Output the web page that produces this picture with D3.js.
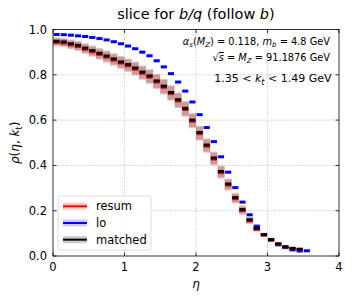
<!DOCTYPE html>
<html>
<head>
<meta charset="utf-8">
<script src="https://cdn.jsdelivr.net/npm/d3@7"></script>
<style>
    html, body { margin: 0; padding: 0; background: #fff; }
    svg text { font-family: "DejaVu Sans", sans-serif; fill: #000; }
</style>
</head>
<body>
<div id="chart"></div>
<script>
// bin edges in eta (0.1 wide)
const binEdges = [0.0, 0.1, 0.2, 0.3, 0.4, 0.5, 0.6, 0.7, 0.8, 0.9, 1.0, 1.1, 1.2, 1.3, 1.4, 1.5, 1.6, 1.7, 1.8, 1.9,
    2.0, 2.1, 2.2, 2.3, 2.4, 2.5, 2.6, 2.7, 2.8, 2.9, 3.0, 3.1, 3.2, 3.3, 3.4, 3.5, 3.6];

const matched = [0.948, 0.945, 0.937, 0.930, 0.918, 0.907, 0.895, 0.883, 0.870, 0.857, 0.845, 0.830, 0.812, 0.795,
    0.773, 0.750, 0.722, 0.690, 0.652, 0.600, 0.545, 0.490, 0.433, 0.373, 0.318, 0.258, 0.205, 0.160, 0.122, 0.095,
    0.073, 0.054, 0.041, 0.034, 0.030];
const resum = [0.943, 0.940, 0.932, 0.925, 0.913, 0.902, 0.890, 0.878, 0.865, 0.852, 0.840, 0.825, 0.807, 0.790,
    0.768, 0.745, 0.717, 0.685, 0.647, 0.595, 0.540, 0.485, 0.428, 0.368, 0.313, 0.253, 0.200, 0.155, 0.118, 0.092,
    0.071, 0.052, 0.040, 0.033, 0.029];
const lo = [0.978, 0.977, 0.975, 0.972, 0.969, 0.965, 0.960, 0.954, 0.946, 0.937, 0.927, 0.915, 0.900, 0.884,
    0.862, 0.835, 0.805, 0.768, 0.728, 0.680, 0.624, 0.567, 0.505, 0.438, 0.370, 0.302, 0.238, 0.182, 0.132, 0.095,
    0.070, 0.049, 0.037, 0.027, 0.022, 0.023];
// scale-variation half-widths of the band
const bandErr = [0.017, 0.018, 0.019, 0.020, 0.021, 0.022, 0.023, 0.024, 0.025, 0.026, 0.027, 0.028, 0.029, 0.030,
    0.031, 0.032, 0.032, 0.032, 0.032, 0.031, 0.030, 0.029, 0.028, 0.026, 0.024, 0.021, 0.018, 0.014, 0.011, 0.008,
    0.006, 0.005, 0.004, 0.003, 0.003];

const xTicks = [0, 1, 2, 3, 4];
const yTicks = [0.0, 0.2, 0.4, 0.6, 0.8, 1.0];
const legendItems = [
    { label: 'resum', color: 'red', band: 'rgba(255,0,0,0.2)' },
    { label: 'lo', color: 'blue', band: 'rgba(0,0,255,0.2)' },
    { label: 'matched', color: 'black', band: 'rgba(0,0,0,0.2)' }
];

const width = 352, height = 302;
const margin = { top: 29.5, right: 13, bottom: 46, left: 53 };

const svg = d3.select('#chart').append('svg')
    .attr('width', width)
    .attr('height', height);

const x = d3.scaleLinear().domain([0, 4]).range([margin.left, width - margin.right]);
const y = d3.scaleLinear().domain([0, 1]).range([height - margin.bottom, margin.top]);

// grid
const grid = svg.append('g')
    .attr('stroke', '#b0b0b0')
    .attr('stroke-width', 0.8)
    .attr('stroke-dasharray', '1,1.6');
grid.selectAll('.gx').data(xTicks.slice(1, -1)).join('line')
    .attr('x1', d => x(d)).attr('x2', d => x(d))
    .attr('y1', y(0)).attr('y2', y(1));
grid.selectAll('.gy').data(yTicks.slice(1, -1)).join('line')
    .attr('x1', x(0)).attr('x2', x(4))
    .attr('y1', d => y(d)).attr('y2', d => y(d));

// bands: resum (red) and matched (grey) on top of each other
const bins = matched.map((m, i) => ({ lo: binEdges[i], hi: binEdges[i + 1], m, r: resum[i], e: bandErr[i] }));
['rgba(255,0,0,0.25)', 'rgba(0,0,0,0.2)'].forEach((fill, k) => {
    svg.append('g').selectAll('rect').data(bins).join('rect')
        .attr('x', d => x(d.lo))
        .attr('width', d => x(d.hi) - x(d.lo))
        .attr('y', d => y((k ? d.m : d.r) + d.e))
        .attr('height', d => y(0) - y(2 * d.e))
        .attr('fill', fill);
});

function drawSteps(values, color, sw) {
    svg.append('g').selectAll('line').data(values).join('line')
        .attr('x1', (d, i) => x(binEdges[i]) + 0.5)
        .attr('x2', (d, i) => x(binEdges[i + 1]) - 0.5)
        .attr('y1', d => y(d))
        .attr('y2', d => y(d))
        .attr('stroke', color)
        .attr('stroke-width', sw);
}

drawSteps(lo, 'blue', 3);
drawSteps(resum, 'red', 3);
drawSteps(matched, 'black', 3);

// axes frame with inward ticks
const tickLen = 3.5;
const axisG = svg.append('g').attr('stroke', '#000').attr('stroke-width', 0.8);
axisG.append('rect')
    .attr('x', x(0)).attr('y', y(1))
    .attr('width', x(4) - x(0)).attr('height', y(0) - y(1))
    .attr('fill', 'none');
xTicks.forEach(t => {
    axisG.append('line').attr('x1', x(t)).attr('x2', x(t)).attr('y1', y(0)).attr('y2', y(0) - tickLen);
    axisG.append('line').attr('x1', x(t)).attr('x2', x(t)).attr('y1', y(1)).attr('y2', y(1) + tickLen);
});
yTicks.forEach(t => {
    axisG.append('line').attr('x1', x(0)).attr('x2', x(0) + tickLen).attr('y1', y(t)).attr('y2', y(t));
    axisG.append('line').attr('x1', x(4)).attr('x2', x(4) - tickLen).attr('y1', y(t)).attr('y2', y(t));
});

svg.append('g').selectAll('text').data(xTicks).join('text')
    .attr('x', d => x(d)).attr('y', y(0) + 15)
    .attr('text-anchor', 'middle')
    .style('font-size', '11.5px')
    .text(d => d);
svg.append('g').selectAll('text').data(yTicks).join('text')
    .attr('x', x(0) - 6).attr('y', d => y(d) + 4)
    .attr('text-anchor', 'end')
    .style('font-size', '11.5px')
    .text(d => d.toFixed(1));

// title
const title = svg.append('text')
    .attr('x', (x(0) + x(4)) / 2).attr('y', 19)
    .attr('text-anchor', 'middle')
    .style('font-size', '14.5px');
title.append('tspan').text('slice for ');
title.append('tspan').style('font-style', 'italic').text('b/q');
title.append('tspan').text(' (follow ');
title.append('tspan').style('font-style', 'italic').text('b');
title.append('tspan').text(')');

// axis labels
svg.append('text')
    .attr('x', (x(0) + x(4)) / 2).attr('y', 288)
    .attr('text-anchor', 'middle')
    .style('font-size', '12px').style('font-style', 'italic')
    .text('η');
const yl = svg.append('text')
    .attr('transform', `translate(19,${(y(0) + y(1)) / 2}) rotate(-90)`)
    .attr('text-anchor', 'middle')
    .style('font-size', '12px');
yl.append('tspan').style('font-style', 'italic').text('ρ');
yl.append('tspan').text('(');
yl.append('tspan').style('font-style', 'italic').text('η');
yl.append('tspan').text(', ');
yl.append('tspan').style('font-style', 'italic').text('k');
yl.append('tspan').attr('dy', 3).style('font-size', '8.5px').text('t');
yl.append('tspan').attr('dy', -3).text(')');

// annotations
const ax = x(4) - 9;
const a1 = svg.append('text').attr('x', ax).attr('y', 45).attr('text-anchor', 'end').style('font-size', '9.8px');
a1.append('tspan').style('font-style', 'italic').text('α');
a1.append('tspan').attr('dy', 2).style('font-size', '7px').style('font-style', 'italic').text('s');
a1.append('tspan').attr('dy', -2).text('(');
a1.append('tspan').style('font-style', 'italic').text('M');
a1.append('tspan').attr('dy', 2).style('font-size', '7px').style('font-style', 'italic').text('Z');
a1.append('tspan').attr('dy', -2).text(') = 0.118, ');
a1.append('tspan').style('font-style', 'italic').text('m');
a1.append('tspan').attr('dy', 2).style('font-size', '7px').style('font-style', 'italic').text('b');
a1.append('tspan').attr('dy', -2).text(' = 4.8 GeV');

const a2 = svg.append('text').attr('x', ax).attr('y', 61).attr('text-anchor', 'end').style('font-size', '9.8px');
a2.append('tspan').text('√');
a2.append('tspan').style('font-style', 'italic').style('text-decoration', 'overline').text('s');
a2.append('tspan').text(' = ');
a2.append('tspan').style('font-style', 'italic').text('M');
a2.append('tspan').attr('dy', 2).style('font-size', '7px').style('font-style', 'italic').text('Z');
a2.append('tspan').attr('dy', -2).text(' = 91.1876 GeV');

const a3 = svg.append('text').attr('x', ax + 1.5).attr('y', 82).attr('text-anchor', 'end').style('font-size', '11px');
a3.append('tspan').text('1.35 < ');
a3.append('tspan').style('font-style', 'italic').text('k');
a3.append('tspan').attr('dy', 2.5).style('font-size', '8px').style('font-style', 'italic').text('t');
a3.append('tspan').attr('dy', -2.5).text(' < 1.49 GeV');

// legend
const lg = svg.append('g').attr('transform', 'translate(58,196)');
lg.append('rect')
    .attr('width', 93).attr('height', 54).attr('rx', 2.5)
    .attr('fill', 'rgba(255,255,255,0.8)')
    .attr('stroke', '#d6d6d6').attr('stroke-width', 0.8);
const ly = d3.scaleBand().domain(legendItems.map(d => d.label)).range([2, 52]);
const li = lg.selectAll('g').data(legendItems).join('g')
    .attr('transform', d => `translate(0,${ly(d.label) + ly.bandwidth() / 2})`);
li.append('rect').attr('x', 5).attr('y', -3.5).attr('width', 24).attr('height', 7).attr('fill', d => d.band);
li.append('line').attr('x1', 5).attr('x2', 29).attr('stroke', d => d.color).attr('stroke-width', 2);
li.append('text').attr('x', 38).attr('y', 4).style('font-size', '11.5px').text(d => d.label);
</script>
</body>
</html>
